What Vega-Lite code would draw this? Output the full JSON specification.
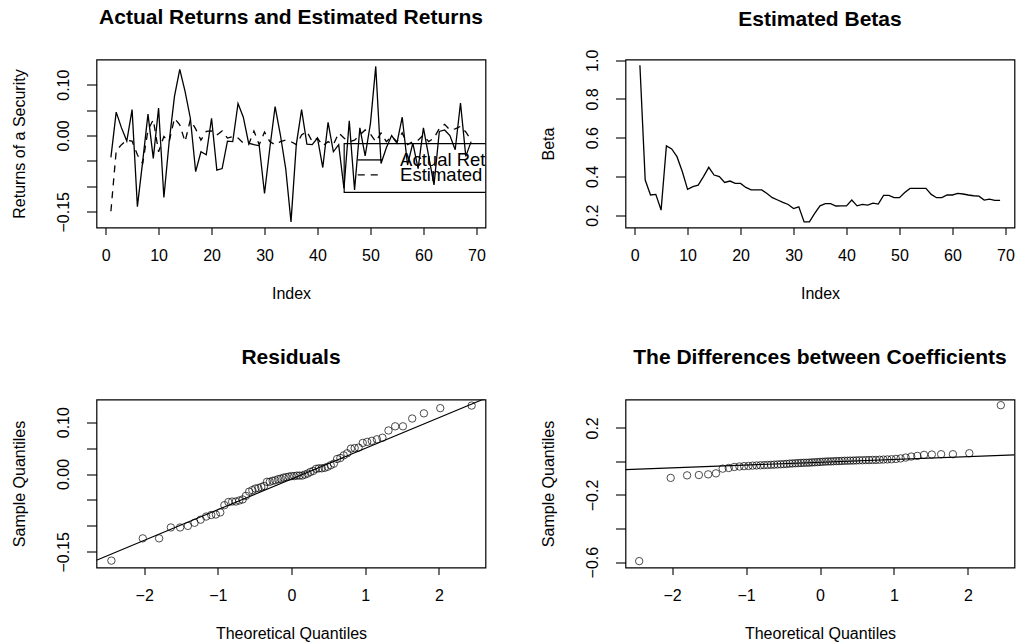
{
  "$schema": "https://vega.github.io/schema/vega-lite/v6.json",
  "background": "white",
  "padding": {"left": 10.5, "top": 5.5, "right": 0, "bottom": 0},
  "columns": 2,
  "spacing": {"row": 172, "column": 140},
  "bounds": "flush",
  "datasets": {
    "returns": [
      {"index": 1, "actual": -0.043, "estimated": -0.149},
      {"index": 2, "actual": 0.046, "estimated": -0.030},
      {"index": 3, "actual": 0.015, "estimated": -0.018},
      {"index": 4, "actual": -0.011, "estimated": -0.009},
      {"index": 5, "actual": 0.051, "estimated": -0.011},
      {"index": 6, "actual": -0.140, "estimated": -0.038},
      {"index": 7, "actual": -0.051, "estimated": -0.055},
      {"index": 8, "actual": 0.042, "estimated": 0.011},
      {"index": 9, "actual": -0.045, "estimated": 0.031},
      {"index": 10, "actual": 0.054, "estimated": -0.032},
      {"index": 11, "actual": -0.122, "estimated": -0.002},
      {"index": 12, "actual": -0.012, "estimated": -0.012},
      {"index": 13, "actual": 0.077, "estimated": 0.034},
      {"index": 14, "actual": 0.130, "estimated": 0.021},
      {"index": 15, "actual": 0.087, "estimated": -0.012},
      {"index": 16, "actual": 0.034, "estimated": 0.031},
      {"index": 17, "actual": -0.071, "estimated": 0.013},
      {"index": 18, "actual": -0.032, "estimated": -0.009},
      {"index": 19, "actual": -0.038, "estimated": 0.008},
      {"index": 20, "actual": 0.034, "estimated": 0.009},
      {"index": 21, "actual": -0.068, "estimated": 0.001},
      {"index": 22, "actual": -0.065, "estimated": 0.009},
      {"index": 23, "actual": -0.011, "estimated": -0.005},
      {"index": 24, "actual": -0.012, "estimated": -0.002},
      {"index": 25, "actual": 0.063, "estimated": -0.005},
      {"index": 26, "actual": 0.036, "estimated": -0.015},
      {"index": 27, "actual": -0.015, "estimated": -0.018},
      {"index": 28, "actual": -0.018, "estimated": 0.009},
      {"index": 29, "actual": -0.020, "estimated": -0.018},
      {"index": 30, "actual": -0.114, "estimated": 0.007},
      {"index": 31, "actual": -0.025, "estimated": -0.012},
      {"index": 32, "actual": 0.057, "estimated": -0.018},
      {"index": 33, "actual": 0.001, "estimated": -0.012},
      {"index": 34, "actual": -0.065, "estimated": -0.009},
      {"index": 35, "actual": -0.170, "estimated": -0.012},
      {"index": 36, "actual": -0.018, "estimated": -0.018},
      {"index": 37, "actual": 0.051, "estimated": 0.001},
      {"index": 38, "actual": -0.017, "estimated": 0.008},
      {"index": 39, "actual": -0.018, "estimated": -0.012},
      {"index": 40, "actual": -0.005, "estimated": -0.005},
      {"index": 41, "actual": -0.063, "estimated": -0.020},
      {"index": 42, "actual": 0.026, "estimated": -0.012},
      {"index": 43, "actual": -0.032, "estimated": -0.018},
      {"index": 44, "actual": -0.018, "estimated": 0.005},
      {"index": 45, "actual": -0.104, "estimated": -0.005},
      {"index": 46, "actual": 0.029, "estimated": -0.012},
      {"index": 47, "actual": -0.107, "estimated": -0.009},
      {"index": 48, "actual": 0.015, "estimated": 0.001},
      {"index": 49, "actual": -0.040, "estimated": 0.011},
      {"index": 50, "actual": 0.024, "estimated": 0.003},
      {"index": 51, "actual": 0.136, "estimated": -0.012},
      {"index": 52, "actual": -0.055, "estimated": 0.005},
      {"index": 53, "actual": -0.024, "estimated": -0.012},
      {"index": 54, "actual": 0.000, "estimated": -0.002},
      {"index": 55, "actual": -0.015, "estimated": -0.012},
      {"index": 56, "actual": 0.036, "estimated": 0.005},
      {"index": 57, "actual": -0.058, "estimated": -0.018},
      {"index": 58, "actual": -0.015, "estimated": -0.012},
      {"index": 59, "actual": -0.065, "estimated": -0.009},
      {"index": 60, "actual": 0.015, "estimated": 0.001},
      {"index": 61, "actual": -0.041, "estimated": -0.012},
      {"index": 62, "actual": -0.097, "estimated": -0.005},
      {"index": 63, "actual": 0.008, "estimated": 0.014},
      {"index": 64, "actual": 0.011, "estimated": 0.022},
      {"index": 65, "actual": 0.000, "estimated": 0.011},
      {"index": 66, "actual": -0.028, "estimated": 0.013},
      {"index": 67, "actual": 0.064, "estimated": 0.018},
      {"index": 68, "actual": -0.041, "estimated": 0.007},
      {"index": 69, "actual": -0.012, "estimated": -0.009}
    ],
    "betas": [
      {"index": 1, "beta": 0.974}, {"index": 2, "beta": 0.381}, {"index": 3, "beta": 0.304},
      {"index": 4, "beta": 0.307}, {"index": 5, "beta": 0.226}, {"index": 6, "beta": 0.558},
      {"index": 7, "beta": 0.542}, {"index": 8, "beta": 0.502}, {"index": 9, "beta": 0.425},
      {"index": 10, "beta": 0.333}, {"index": 11, "beta": 0.347}, {"index": 12, "beta": 0.355},
      {"index": 13, "beta": 0.399}, {"index": 14, "beta": 0.447}, {"index": 15, "beta": 0.407},
      {"index": 16, "beta": 0.399}, {"index": 17, "beta": 0.369}, {"index": 18, "beta": 0.376},
      {"index": 19, "beta": 0.364}, {"index": 20, "beta": 0.364}, {"index": 21, "beta": 0.343},
      {"index": 22, "beta": 0.330}, {"index": 23, "beta": 0.330}, {"index": 24, "beta": 0.330},
      {"index": 25, "beta": 0.312}, {"index": 26, "beta": 0.290}, {"index": 27, "beta": 0.278},
      {"index": 28, "beta": 0.266}, {"index": 29, "beta": 0.255}, {"index": 30, "beta": 0.234},
      {"index": 31, "beta": 0.243}, {"index": 32, "beta": 0.165}, {"index": 33, "beta": 0.165},
      {"index": 34, "beta": 0.209}, {"index": 35, "beta": 0.248}, {"index": 36, "beta": 0.259},
      {"index": 37, "beta": 0.259}, {"index": 38, "beta": 0.247}, {"index": 39, "beta": 0.248},
      {"index": 40, "beta": 0.248}, {"index": 41, "beta": 0.278}, {"index": 42, "beta": 0.248},
      {"index": 43, "beta": 0.255}, {"index": 44, "beta": 0.252}, {"index": 45, "beta": 0.262},
      {"index": 46, "beta": 0.257}, {"index": 47, "beta": 0.302}, {"index": 48, "beta": 0.302},
      {"index": 49, "beta": 0.290}, {"index": 50, "beta": 0.290}, {"index": 51, "beta": 0.317},
      {"index": 52, "beta": 0.338}, {"index": 53, "beta": 0.338}, {"index": 54, "beta": 0.338},
      {"index": 55, "beta": 0.338}, {"index": 56, "beta": 0.307}, {"index": 57, "beta": 0.290},
      {"index": 58, "beta": 0.290}, {"index": 59, "beta": 0.304}, {"index": 60, "beta": 0.304},
      {"index": 61, "beta": 0.312}, {"index": 62, "beta": 0.309}, {"index": 63, "beta": 0.304},
      {"index": 64, "beta": 0.300}, {"index": 65, "beta": 0.298}, {"index": 66, "beta": 0.278},
      {"index": 67, "beta": 0.283}, {"index": 68, "beta": 0.276}, {"index": 69, "beta": 0.276}
    ],
    "residuals": [
      {"theoretical": -2.445, "sample": -0.167}, {"theoretical": -2.019, "sample": -0.124},
      {"theoretical": -1.797, "sample": -0.124}, {"theoretical": -1.638, "sample": -0.103},
      {"theoretical": -1.512, "sample": -0.103}, {"theoretical": -1.407, "sample": -0.100},
      {"theoretical": -1.316, "sample": -0.094}, {"theoretical": -1.234, "sample": -0.088},
      {"theoretical": -1.159, "sample": -0.082}, {"theoretical": -1.090, "sample": -0.079},
      {"theoretical": -1.027, "sample": -0.078}, {"theoretical": -0.967, "sample": -0.074},
      {"theoretical": -0.911, "sample": -0.060}, {"theoretical": -0.857, "sample": -0.054},
      {"theoretical": -0.806, "sample": -0.053}, {"theoretical": -0.756, "sample": -0.053},
      {"theoretical": -0.709, "sample": -0.051}, {"theoretical": -0.663, "sample": -0.049},
      {"theoretical": -0.619, "sample": -0.042}, {"theoretical": -0.575, "sample": -0.034},
      {"theoretical": -0.532, "sample": -0.031}, {"theoretical": -0.491, "sample": -0.028},
      {"theoretical": -0.451, "sample": -0.027}, {"theoretical": -0.410, "sample": -0.025},
      {"theoretical": -0.372, "sample": -0.023}, {"theoretical": -0.333, "sample": -0.015},
      {"theoretical": -0.295, "sample": -0.015}, {"theoretical": -0.257, "sample": -0.013},
      {"theoretical": -0.220, "sample": -0.012}, {"theoretical": -0.182, "sample": -0.010},
      {"theoretical": -0.146, "sample": -0.009}, {"theoretical": -0.109, "sample": -0.007},
      {"theoretical": -0.073, "sample": -0.006}, {"theoretical": -0.036, "sample": -0.005},
      {"theoretical": 0.000, "sample": -0.004}, {"theoretical": 0.036, "sample": -0.004},
      {"theoretical": 0.073, "sample": -0.003}, {"theoretical": 0.109, "sample": -0.003},
      {"theoretical": 0.146, "sample": -0.003}, {"theoretical": 0.182, "sample": -0.001},
      {"theoretical": 0.220, "sample": 0.001}, {"theoretical": 0.257, "sample": 0.004},
      {"theoretical": 0.295, "sample": 0.006}, {"theoretical": 0.333, "sample": 0.010},
      {"theoretical": 0.372, "sample": 0.011}, {"theoretical": 0.410, "sample": 0.011},
      {"theoretical": 0.451, "sample": 0.012}, {"theoretical": 0.491, "sample": 0.014},
      {"theoretical": 0.532, "sample": 0.017}, {"theoretical": 0.575, "sample": 0.020},
      {"theoretical": 0.619, "sample": 0.029}, {"theoretical": 0.663, "sample": 0.031},
      {"theoretical": 0.709, "sample": 0.036}, {"theoretical": 0.756, "sample": 0.040},
      {"theoretical": 0.806, "sample": 0.049}, {"theoretical": 0.857, "sample": 0.050},
      {"theoretical": 0.911, "sample": 0.051}, {"theoretical": 0.967, "sample": 0.060},
      {"theoretical": 1.027, "sample": 0.062}, {"theoretical": 1.090, "sample": 0.064},
      {"theoretical": 1.159, "sample": 0.067}, {"theoretical": 1.234, "sample": 0.070},
      {"theoretical": 1.316, "sample": 0.084}, {"theoretical": 1.407, "sample": 0.092},
      {"theoretical": 1.512, "sample": 0.092}, {"theoretical": 1.638, "sample": 0.107},
      {"theoretical": 1.797, "sample": 0.117}, {"theoretical": 2.019, "sample": 0.127},
      {"theoretical": 2.445, "sample": 0.132}
    ],
    "differences": [
      {"theoretical": -2.445, "sample": -0.594}, {"theoretical": -2.019, "sample": -0.098},
      {"theoretical": -1.797, "sample": -0.083}, {"theoretical": -1.638, "sample": -0.081},
      {"theoretical": -1.512, "sample": -0.077}, {"theoretical": -1.407, "sample": -0.071},
      {"theoretical": -1.316, "sample": -0.043}, {"theoretical": -1.234, "sample": -0.039},
      {"theoretical": -1.159, "sample": -0.033}, {"theoretical": -1.090, "sample": -0.030},
      {"theoretical": -1.027, "sample": -0.028}, {"theoretical": -0.967, "sample": -0.027},
      {"theoretical": -0.911, "sample": -0.025}, {"theoretical": -0.857, "sample": -0.024},
      {"theoretical": -0.806, "sample": -0.023}, {"theoretical": -0.756, "sample": -0.022},
      {"theoretical": -0.709, "sample": -0.021}, {"theoretical": -0.663, "sample": -0.020},
      {"theoretical": -0.619, "sample": -0.019}, {"theoretical": -0.575, "sample": -0.018},
      {"theoretical": -0.532, "sample": -0.017}, {"theoretical": -0.491, "sample": -0.016},
      {"theoretical": -0.451, "sample": -0.015}, {"theoretical": -0.410, "sample": -0.013},
      {"theoretical": -0.372, "sample": -0.012}, {"theoretical": -0.333, "sample": -0.011},
      {"theoretical": -0.295, "sample": -0.010}, {"theoretical": -0.257, "sample": -0.009},
      {"theoretical": -0.220, "sample": -0.008}, {"theoretical": -0.182, "sample": -0.008},
      {"theoretical": -0.146, "sample": -0.007}, {"theoretical": -0.109, "sample": -0.006},
      {"theoretical": -0.073, "sample": -0.005}, {"theoretical": -0.036, "sample": -0.004},
      {"theoretical": 0.000, "sample": -0.003}, {"theoretical": 0.036, "sample": -0.002},
      {"theoretical": 0.073, "sample": -0.001}, {"theoretical": 0.109, "sample": 0.000},
      {"theoretical": 0.146, "sample": 0.000}, {"theoretical": 0.182, "sample": 0.001},
      {"theoretical": 0.220, "sample": 0.002}, {"theoretical": 0.257, "sample": 0.002},
      {"theoretical": 0.295, "sample": 0.003}, {"theoretical": 0.333, "sample": 0.004},
      {"theoretical": 0.372, "sample": 0.004}, {"theoretical": 0.410, "sample": 0.005},
      {"theoretical": 0.451, "sample": 0.005}, {"theoretical": 0.491, "sample": 0.006},
      {"theoretical": 0.532, "sample": 0.007}, {"theoretical": 0.575, "sample": 0.007},
      {"theoretical": 0.619, "sample": 0.008}, {"theoretical": 0.663, "sample": 0.008},
      {"theoretical": 0.709, "sample": 0.009}, {"theoretical": 0.756, "sample": 0.009},
      {"theoretical": 0.806, "sample": 0.010}, {"theoretical": 0.857, "sample": 0.011},
      {"theoretical": 0.911, "sample": 0.012}, {"theoretical": 0.967, "sample": 0.013},
      {"theoretical": 1.027, "sample": 0.015}, {"theoretical": 1.090, "sample": 0.018},
      {"theoretical": 1.159, "sample": 0.023}, {"theoretical": 1.234, "sample": 0.029},
      {"theoretical": 1.316, "sample": 0.033}, {"theoretical": 1.407, "sample": 0.039},
      {"theoretical": 1.512, "sample": 0.041}, {"theoretical": 1.638, "sample": 0.043},
      {"theoretical": 1.797, "sample": 0.043}, {"theoretical": 2.019, "sample": 0.049},
      {"theoretical": 2.445, "sample": 0.335}
    ]
  },
  "concat": [
    {
      "width": 389,
      "height": 168,
      "title": {"text": "Actual Returns and Estimated Returns", "offset": 31.5},
      "layer": [
        {
          "data": {"name": "returns"},
          "mark": {"type": "line", "color": "black", "strokeWidth": 1.3},
          "encoding": {
            "x": {"field": "index", "type": "quantitative", "title": "Index",
                  "scale": {"domain": [-1.72, 71.72], "nice": false, "zero": false},
                  "axis": {"values": [0, 10, 20, 30, 40, 50, 60, 70], "tickCount": 20, "format": "d"}},
            "y": {"field": "actual", "type": "quantitative", "title": "Returns of a Security",
                  "scale": {"domain": [-0.181, 0.1496], "nice": false, "zero": false},
                  "axis": {"values": [-0.15, -0.1, -0.05, 0, 0.05, 0.1, 0.15], "tickCount": 20, "format": ".2f",
                           "labelExpr": "abs(datum.value - 0.1) < 1e-9 || abs(datum.value) < 1e-9 || abs(datum.value + 0.15) < 1e-9 ? datum.label : ''"}}
          }
        },
        {
          "data": {"name": "returns"},
          "mark": {"type": "line", "color": "black", "strokeWidth": 1.3, "strokeDash": [7, 6]},
          "encoding": {
            "x": {"field": "index", "type": "quantitative", "title": "Index"},
            "y": {"field": "estimated", "type": "quantitative", "title": "Returns of a Security"}
          }
        },
        {
          "data": {"values": [{}]},
          "mark": {"type": "rect", "clip": true, "fillOpacity": 0, "stroke": "black", "strokeWidth": 1.2},
          "encoding": {
            "x": {"datum": 45.04, "type": "quantitative", "title": "Index"},
            "x2": {"datum": 80},
            "y": {"datum": -0.016, "type": "quantitative", "title": "Returns of a Security"},
            "y2": {"datum": -0.112}
          }
        },
        {
          "data": {"values": [{}]},
          "mark": {"type": "rule", "color": "black", "strokeWidth": 1.3},
          "encoding": {
            "x": {"datum": 47.6, "type": "quantitative", "title": "Index"},
            "x2": {"datum": 52.1},
            "y": {"datum": -0.048, "type": "quantitative", "title": "Returns of a Security"}
          }
        },
        {
          "data": {"values": [{}]},
          "mark": {"type": "rule", "color": "black", "strokeWidth": 1.3, "strokeDash": [7, 6]},
          "encoding": {
            "x": {"datum": 47.6, "type": "quantitative", "title": "Index"},
            "x2": {"datum": 52.1},
            "y": {"datum": -0.0775, "type": "quantitative", "title": "Returns of a Security"}
          }
        },
        {
          "data": {"values": [{}]},
          "mark": {"type": "text", "clip": true, "align": "left", "baseline": "middle", "fontSize": 18.5, "color": "black"},
          "encoding": {
            "x": {"datum": 55.6, "type": "quantitative", "title": "Index"},
            "y": {"datum": -0.048, "type": "quantitative", "title": "Returns of a Security"},
            "text": {"value": "Actual Returns"}
          }
        },
        {
          "data": {"values": [{}]},
          "mark": {"type": "text", "clip": true, "align": "left", "baseline": "middle", "fontSize": 18.5, "color": "black"},
          "encoding": {
            "x": {"datum": 55.6, "type": "quantitative", "title": "Index"},
            "y": {"datum": -0.0775, "type": "quantitative", "title": "Returns of a Security"},
            "text": {"value": "Estimated Returns"}
          }
        }
      ]
    },
    {
      "width": 389,
      "height": 168,
      "title": {"text": "Estimated Betas", "offset": 19},
      "data": {"name": "betas"},
      "mark": {"type": "line", "color": "black", "strokeWidth": 1.3},
      "encoding": {
        "x": {"field": "index", "type": "quantitative", "title": "Index",
              "scale": {"domain": [-1.72, 71.72], "nice": false, "zero": false},
              "axis": {"values": [0, 10, 20, 30, 40, 50, 60, 70], "tickCount": 20, "format": "d"}},
        "y": {"field": "beta", "type": "quantitative", "title": "Beta",
              "scale": {"domain": [0.136, 1.004], "nice": false, "zero": false},
              "axis": {"values": [0.2, 0.4, 0.6, 0.8, 1.0], "tickCount": 20, "format": ".1f"}}
      }
    },
    {
      "width": 389,
      "height": 168,
      "title": {"text": "Residuals", "offset": 31.5},
      "layer": [
        {
          "data": {"name": "residuals"},
          "mark": {"type": "point", "shape": "circle", "filled": false, "color": "black", "size": 55, "strokeWidth": 1},
          "encoding": {
            "x": {"field": "theoretical", "type": "quantitative", "title": "Theoretical Quantiles",
                  "scale": {"domain": [-2.647, 2.633], "nice": false, "zero": false},
                  "axis": {"values": [-2, -1, 0, 1, 2], "tickCount": 20, "format": "d"}},
            "y": {"field": "sample", "type": "quantitative", "title": "Sample Quantiles",
                  "scale": {"domain": [-0.1802, 0.1437], "nice": false, "zero": false},
                  "axis": {"values": [-0.15, -0.1, -0.05, 0, 0.05, 0.1], "tickCount": 20, "format": ".2f",
                           "labelExpr": "abs(datum.value - 0.1) < 1e-9 || abs(datum.value) < 1e-9 || abs(datum.value + 0.15) < 1e-9 ? datum.label : ''"}}
          }
        },
        {
          "data": {"values": [{}]},
          "mark": {"type": "rule", "clip": true, "color": "black", "strokeWidth": 1.1},
          "encoding": {
            "x": {"datum": -2.647, "type": "quantitative", "title": "Theoretical Quantiles"},
            "x2": {"datum": 2.633},
            "y": {"datum": -0.166, "type": "quantitative", "title": "Sample Quantiles"},
            "y2": {"datum": 0.146}
          }
        }
      ]
    },
    {
      "width": 389,
      "height": 168,
      "title": {"text": "The Differences between Coefficients", "offset": 31.5},
      "layer": [
        {
          "data": {"name": "differences"},
          "mark": {"type": "point", "shape": "circle", "filled": false, "color": "black", "size": 55, "strokeWidth": 1},
          "encoding": {
            "x": {"field": "theoretical", "type": "quantitative", "title": "Theoretical Quantiles",
                  "scale": {"domain": [-2.63, 2.63], "nice": false, "zero": false},
                  "axis": {"values": [-2, -1, 0, 1, 2], "tickCount": 20, "format": "d"}},
            "y": {"field": "sample", "type": "quantitative", "title": "Sample Quantiles",
                  "scale": {"domain": [-0.632, 0.369], "nice": false, "zero": false},
                  "axis": {"values": [-0.6, -0.4, -0.2, 0, 0.2], "tickCount": 20, "format": ".1f",
                           "labelExpr": "abs(datum.value - 0.2) < 1e-9 || abs(datum.value + 0.2) < 1e-9 || abs(datum.value + 0.6) < 1e-9 ? datum.label : ''"}}
          }
        },
        {
          "data": {"values": [{}]},
          "mark": {"type": "rule", "clip": true, "color": "black", "strokeWidth": 1.1},
          "encoding": {
            "x": {"datum": -2.63, "type": "quantitative", "title": "Theoretical Quantiles"},
            "x2": {"datum": 2.63},
            "y": {"datum": -0.0488, "type": "quantitative", "title": "Sample Quantiles"},
            "y2": {"datum": 0.0388}
          }
        }
      ]
    }
  ],
  "config": {
    "font": "Liberation Sans",
    "view": {"stroke": "black", "strokeWidth": 1.2},
    "axis": {
      "domain": false, "grid": false, "ticks": true,
      "tickColor": "black", "tickWidth": 1.1,
      "labelColor": "black", "labelFontSize": 16, "labelFont": "Liberation Sans",
      "titleColor": "black", "titleFontSize": 16, "titleFontWeight": "normal", "titleFont": "Liberation Sans",
      "labelOverlap": false, "labelFlush": false, "labelBound": false
    },
    "axisX": {"tickSize": 7, "labelPadding": 13, "titlePadding": 22},
    "axisY": {"tickSize": 10, "labelAngle": -90, "labelAlign": "center", "labelBaseline": "bottom", "labelPadding": 15, "titlePadding": 28},
    "title": {"fontSize": 21, "fontWeight": "bold", "color": "black", "font": "Liberation Sans", "baseline": "alphabetic", "frame": "group"}
  }
}
